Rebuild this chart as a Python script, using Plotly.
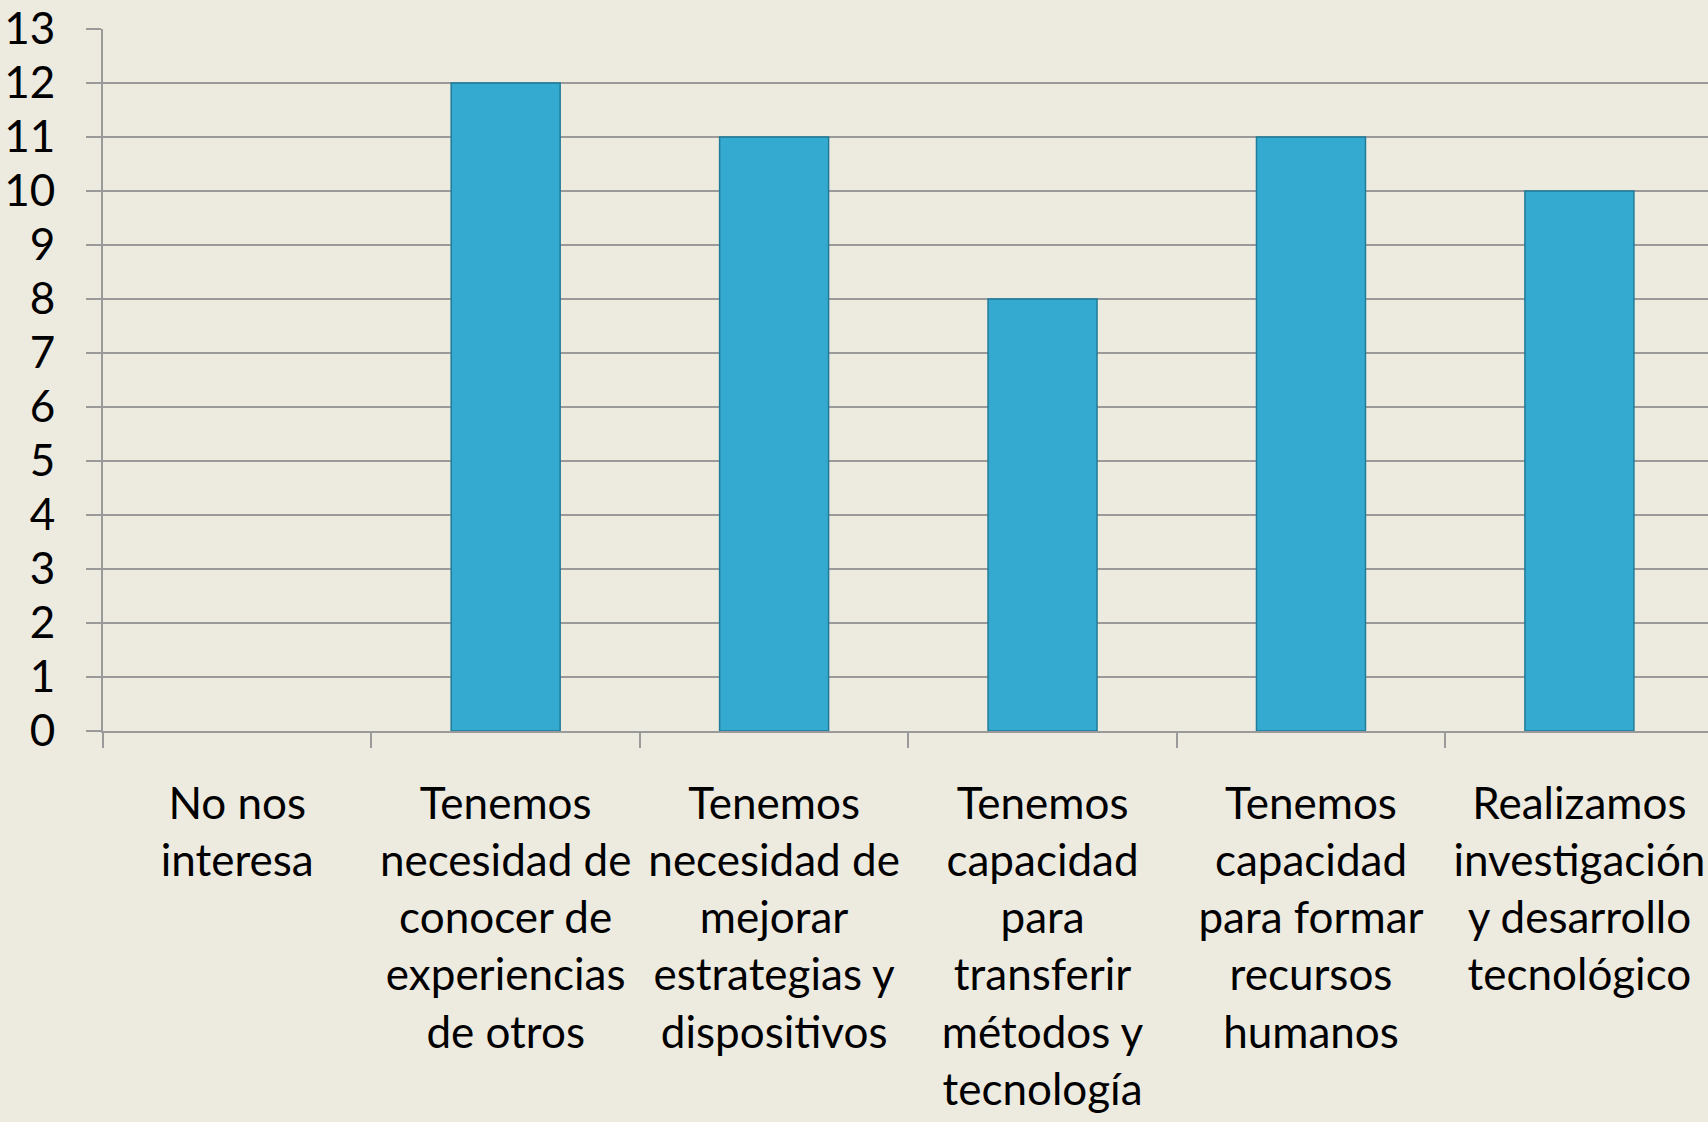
import plotly.graph_objects as go

categories = [
    "No nos<br>interesa",
    "Tenemos<br>necesidad de<br>conocer de<br>experiencias<br>de otros",
    "Tenemos<br>necesidad de<br>mejorar<br>estrategias y<br>dispositivos",
    "Tenemos<br>capacidad<br>para<br>transferir<br>métodos y<br>tecnología",
    "Tenemos<br>capacidad<br>para formar<br>recursos<br>humanos",
    "Realizamos<br>investigación<br>y desarrollo<br>tecnológico",
]
values = [0, 12, 11, 8, 11, 10]
y_ticks = list(range(0, 14))

BG = "#EDEAE0"
GRID = "#9A9A9A"
FONT = "Lato"
FS = 44

fig = go.Figure()
fig.add_trace(go.Bar(
    x=categories,
    y=values,
    width=0.406,
    marker=dict(
        color="#35AAD0",
        line=dict(color="#1F7B97", width=[0 if v == 0 else 1.5 for v in values]),
    ),
    hoverinfo="x+y",
))

fig.update_layout(
    width=1708,
    height=1122,
    paper_bgcolor=BG,
    plot_bgcolor=BG,
    margin=dict(l=103, r=0, t=29, b=391, autoexpand=False),
    showlegend=False,
    font=dict(family=FONT, size=FS, color="#000000"),
)

fig.update_xaxes(
    type="category",
    range=[-0.5, 5.479],
    automargin=False,
    showgrid=False,
    showline=True,
    linecolor=GRID,
    linewidth=2,
    ticks="outside",
    tickson="boundaries",
    ticklen=15,
    tickwidth=2,
    tickcolor=GRID,
    ticklabelstandoff=33,
    tickfont=dict(family=FONT, size=FS, color="#000000"),
    zeroline=False,
)

fig.update_yaxes(
    range=[0, 13],
    automargin=False,
    tickvals=y_ticks,
    ticktext=[str(v) for v in y_ticks],
    showgrid=True,
    gridcolor=GRID,
    gridwidth=2,
    showline=True,
    linecolor=GRID,
    linewidth=2,
    ticks="outside",
    ticklen=15,
    tickwidth=2,
    tickcolor=GRID,
    ticklabelstandoff=22,
    tickfont=dict(family=FONT, size=FS, color="#000000"),
    zeroline=False,
)

fig.write_html(
    "out.html",
    config={"displayModeBar": False},
    post_script="document.body.style.margin='0';document.body.style.overflow='hidden';document.body.style.background='#EDEAE0';",
)
